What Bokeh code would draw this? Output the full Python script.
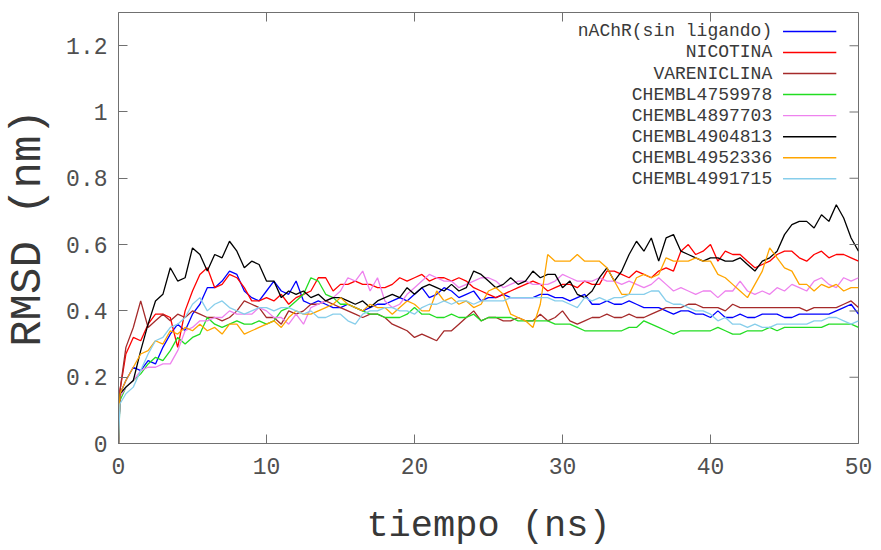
from bokeh.plotting import figure
from bokeh.models import Range1d, FixedTicker, Label, BoxAnnotation, NumeralTickFormatter
from bokeh.embed import file_html
from bokeh.resources import INLINE

# time grid (ns)
tiempo = [0.0, 0.1] + [round(0.5 * i, 1) for i in range(1, 101)]

nachr = [0.00, 0.15,
 0.19, 0.23, 0.22, 0.25, 0.24, 0.29, 0.33, 0.36, 0.34, 0.39,
 0.42, 0.47, 0.47, 0.49, 0.52, 0.51, 0.46, 0.44, 0.43, 0.46,
 0.49, 0.46, 0.45, 0.49, 0.43, 0.42, 0.43, 0.42, 0.41, 0.41,
 0.42, 0.41, 0.40, 0.41, 0.42, 0.42, 0.43, 0.44, 0.43, 0.45,
 0.47, 0.44, 0.45, 0.47, 0.46, 0.44, 0.45, 0.46, 0.43, 0.44,
 0.44, 0.45, 0.44, 0.44, 0.44, 0.44, 0.45, 0.45, 0.44, 0.44,
 0.43, 0.44, 0.45, 0.42, 0.42, 0.43, 0.42, 0.42, 0.43, 0.42,
 0.41, 0.41, 0.41, 0.40, 0.39, 0.40, 0.40, 0.39, 0.39, 0.38,
 0.40, 0.38, 0.38, 0.39, 0.38, 0.38, 0.39, 0.39, 0.39, 0.38,
 0.38, 0.39, 0.39, 0.39, 0.39, 0.39, 0.40, 0.41, 0.42, 0.39]

nicotina = [0.00, 0.16,
 0.27, 0.32, 0.31, 0.36, 0.39, 0.39, 0.38, 0.29, 0.40, 0.46,
 0.51, 0.53, 0.47, 0.48, 0.51, 0.50, 0.47, 0.43, 0.43, 0.44,
 0.43, 0.45, 0.42, 0.44, 0.45, 0.46, 0.50, 0.50, 0.46, 0.48,
 0.48, 0.49, 0.48, 0.48, 0.47, 0.47, 0.48, 0.50, 0.49, 0.50,
 0.51, 0.49, 0.50, 0.50, 0.49, 0.50, 0.49, 0.47, 0.46, 0.45,
 0.44, 0.45, 0.46, 0.47, 0.48, 0.49, 0.48, 0.46, 0.47, 0.48,
 0.48, 0.47, 0.49, 0.48, 0.48, 0.52, 0.52, 0.51, 0.50, 0.52,
 0.51, 0.50, 0.52, 0.53, 0.52, 0.58, 0.60, 0.57, 0.58, 0.60,
 0.55, 0.58, 0.57, 0.57, 0.55, 0.53, 0.54, 0.55, 0.57, 0.58,
 0.58, 0.56, 0.55, 0.57, 0.58, 0.56, 0.57, 0.57, 0.56, 0.55]

vareniclina = [0.00, 0.16,
 0.29, 0.35, 0.43, 0.35, 0.37, 0.39, 0.37, 0.39, 0.38, 0.40,
 0.39, 0.38, 0.38, 0.37, 0.38, 0.40, 0.43, 0.42, 0.41, 0.38,
 0.38, 0.36, 0.40, 0.39, 0.40, 0.42, 0.42, 0.43, 0.42, 0.41,
 0.40, 0.39, 0.38, 0.39, 0.39, 0.38, 0.36, 0.35, 0.34, 0.32,
 0.33, 0.32, 0.31, 0.34, 0.34, 0.36, 0.38, 0.40, 0.37, 0.38,
 0.38, 0.37, 0.37, 0.38, 0.37, 0.37, 0.39, 0.37, 0.38, 0.40,
 0.37, 0.36, 0.37, 0.38, 0.38, 0.39, 0.38, 0.38, 0.39, 0.38,
 0.38, 0.39, 0.40, 0.41, 0.41, 0.41, 0.42, 0.42, 0.41, 0.41,
 0.41, 0.40, 0.42, 0.41, 0.41, 0.41, 0.41, 0.41, 0.41, 0.41,
 0.41, 0.41, 0.40, 0.41, 0.41, 0.41, 0.41, 0.42, 0.43, 0.41]

chembl4759978 = [0.00, 0.13,
 0.17, 0.19, 0.21, 0.24, 0.26, 0.25, 0.28, 0.32, 0.30, 0.32,
 0.33, 0.38, 0.36, 0.35, 0.36, 0.37, 0.36, 0.36, 0.37, 0.36,
 0.37, 0.40, 0.41, 0.43, 0.45, 0.50, 0.49, 0.45, 0.44, 0.42,
 0.42, 0.41, 0.40, 0.39, 0.39, 0.38, 0.38, 0.38, 0.39, 0.41,
 0.39, 0.39, 0.38, 0.38, 0.39, 0.38, 0.38, 0.39, 0.37, 0.38,
 0.38, 0.38, 0.38, 0.37, 0.37, 0.37, 0.37, 0.37, 0.36, 0.36,
 0.36, 0.35, 0.34, 0.34, 0.34, 0.34, 0.34, 0.34, 0.35, 0.35,
 0.37, 0.36, 0.35, 0.34, 0.33, 0.34, 0.34, 0.34, 0.34, 0.34,
 0.35, 0.34, 0.33, 0.33, 0.34, 0.34, 0.34, 0.35, 0.34, 0.35,
 0.35, 0.35, 0.35, 0.35, 0.35, 0.36, 0.36, 0.36, 0.36, 0.35]

chembl4897703 = [0.00, 0.14,
 0.17, 0.19, 0.22, 0.23, 0.23, 0.24, 0.24, 0.28, 0.34, 0.35,
 0.37, 0.37, 0.38, 0.38, 0.40, 0.39, 0.39, 0.39, 0.41, 0.40,
 0.38, 0.38, 0.36, 0.39, 0.36, 0.41, 0.42, 0.43, 0.44, 0.46,
 0.50, 0.49, 0.52, 0.46, 0.50, 0.43, 0.41, 0.42, 0.45, 0.47,
 0.49, 0.51, 0.50, 0.49, 0.49, 0.47, 0.48, 0.49, 0.50, 0.50,
 0.49, 0.47, 0.48, 0.49, 0.49, 0.48, 0.48, 0.48, 0.49, 0.51,
 0.50, 0.49, 0.49, 0.49, 0.50, 0.49, 0.49, 0.48, 0.49, 0.48,
 0.47, 0.48, 0.50, 0.48, 0.46, 0.47, 0.46, 0.45, 0.46, 0.46,
 0.44, 0.46, 0.46, 0.49, 0.46, 0.45, 0.46, 0.45, 0.47, 0.46,
 0.48, 0.47, 0.46, 0.49, 0.50, 0.48, 0.47, 0.50, 0.49, 0.50]

chembl4904813 = [0.00, 0.15,
 0.17, 0.19, 0.28, 0.36, 0.43, 0.45, 0.53, 0.49, 0.50, 0.59,
 0.57, 0.52, 0.57, 0.56, 0.61, 0.58, 0.53, 0.55, 0.54, 0.49,
 0.49, 0.44, 0.46, 0.45, 0.46, 0.44, 0.45, 0.43, 0.44, 0.44,
 0.43, 0.42, 0.43, 0.41, 0.43, 0.44, 0.45, 0.44, 0.47, 0.45,
 0.47, 0.48, 0.47, 0.46, 0.48, 0.46, 0.47, 0.52, 0.51, 0.49,
 0.47, 0.48, 0.50, 0.48, 0.49, 0.52, 0.50, 0.51, 0.51, 0.47,
 0.49, 0.45, 0.44, 0.46, 0.50, 0.53, 0.49, 0.52, 0.57, 0.61,
 0.58, 0.62, 0.55, 0.62, 0.63, 0.58, 0.57, 0.56, 0.55, 0.56,
 0.56, 0.55, 0.55, 0.56, 0.54, 0.52, 0.55, 0.56, 0.58, 0.63,
 0.66, 0.67, 0.67, 0.65, 0.69, 0.67, 0.72, 0.68, 0.62, 0.58]

chembl4952336 = [0.00, 0.15,
 0.19, 0.23, 0.27, 0.28, 0.31, 0.30, 0.34, 0.33, 0.35, 0.34,
 0.36, 0.34, 0.35, 0.33, 0.36, 0.36, 0.33, 0.34, 0.35, 0.36,
 0.37, 0.35, 0.38, 0.40, 0.39, 0.39, 0.40, 0.41, 0.42, 0.44,
 0.42, 0.41, 0.40, 0.42, 0.41, 0.41, 0.39, 0.41, 0.43, 0.42,
 0.40, 0.40, 0.46, 0.43, 0.44, 0.42, 0.43, 0.41, 0.42, 0.46,
 0.47, 0.45, 0.39, 0.38, 0.37, 0.35, 0.42, 0.57, 0.55, 0.55,
 0.55, 0.57, 0.55, 0.55, 0.55, 0.53, 0.49, 0.45, 0.45, 0.50,
 0.51, 0.50, 0.51, 0.56, 0.55, 0.55, 0.55, 0.56, 0.55, 0.55,
 0.51, 0.50, 0.48, 0.46, 0.44, 0.48, 0.52, 0.59, 0.56, 0.53,
 0.52, 0.48, 0.48, 0.46, 0.48, 0.47, 0.48, 0.46, 0.47, 0.47]

chembl4991715 = [0.00, 0.12,
 0.15, 0.17, 0.22, 0.27, 0.31, 0.32, 0.35, 0.36, 0.38, 0.42,
 0.44, 0.40, 0.42, 0.43, 0.41, 0.40, 0.39, 0.40, 0.41, 0.41,
 0.40, 0.41, 0.41, 0.40, 0.39, 0.40, 0.38, 0.38, 0.39, 0.39,
 0.37, 0.36, 0.39, 0.40, 0.40, 0.41, 0.41, 0.40, 0.40, 0.39,
 0.41, 0.42, 0.42, 0.43, 0.42, 0.43, 0.43, 0.42, 0.43, 0.43,
 0.43, 0.43, 0.44, 0.44, 0.44, 0.44, 0.44, 0.44, 0.43, 0.43,
 0.42, 0.41, 0.44, 0.43, 0.44, 0.43, 0.44, 0.44, 0.45, 0.45,
 0.45, 0.46, 0.46, 0.43, 0.42, 0.42, 0.41, 0.40, 0.40, 0.39,
 0.37, 0.38, 0.36, 0.36, 0.35, 0.36, 0.35, 0.35, 0.36, 0.36,
 0.36, 0.36, 0.36, 0.37, 0.37, 0.38, 0.38, 0.37, 0.36, 0.37]

nombres = ["nAChR(sin ligando)", "NICOTINA", "VARENICLINA", "CHEMBL4759978",
           "CHEMBL4897703", "CHEMBL4904813", "CHEMBL4952336", "CHEMBL4991715"]
series = [nachr, nicotina, vareniclina, chembl4759978,
          chembl4897703, chembl4904813, chembl4952336, chembl4991715]
colores = ["#0000ff", "#ff0000", "#a52a2a", "#22dd22",
           "#ee82ee", "#000000", "#ffa500", "#87ceeb"]

y_ticks = [0, 0.2, 0.4, 0.6, 0.8, 1.0, 1.2]
x_ticks = [0, 10, 20, 30, 40, 50]

X_MIN, X_MAX = 0, 50
Y_MIN, Y_MAX = 0, 1.3

FONT = "Liberation Mono"
FRAME = "#707070"

p = figure(width=881, height=550, output_backend="svg", toolbar_location=None,
           x_range=Range1d(X_MIN, X_MAX), y_range=Range1d(Y_MIN, Y_MAX),
           min_border_left=118, min_border_right=23, min_border_top=12,
           min_border_bottom=107)
p.grid.visible = False
p.outline_line_color = FRAME
p.background_fill_color = "white"
p.border_fill_color = "white"

for s, c in zip(series, colores):
    p.line(tiempo, s, line_color=c, line_width=1.3)

for ax in (p.xaxis[0], p.yaxis[0]):
    ax.axis_line_color = FRAME
    ax.major_tick_line_color = FRAME
    ax.major_tick_in = 9
    ax.major_tick_out = 0
    ax.minor_tick_line_color = None
    ax.major_label_text_font = FONT
    ax.major_label_text_color = "#505050"
    ax.major_label_text_font_size = "23px"
    ax.axis_label_text_font = FONT
    ax.axis_label_text_font_style = "normal"
    ax.axis_label_text_color = "#383838"

p.xaxis.ticker = FixedTicker(ticks=x_ticks)
p.yaxis.ticker = FixedTicker(ticks=y_ticks)
p.yaxis.formatter = NumeralTickFormatter(format="0.[0]")
p.xaxis.axis_label = "tiempo (ns)"
p.yaxis.axis_label = "RMSD (nm)"
p.xaxis.axis_label_text_font_size = "37px"
p.yaxis.axis_label_text_font_size = "44px"
p.xaxis.major_label_standoff = 14
p.xaxis.axis_label_standoff = 28
p.yaxis.major_label_standoff = 11
p.yaxis.axis_label_standoff = 10

# mirrored inward ticks on top and right frame edges (9 px long)
tick_dx = (X_MAX - X_MIN) * 9 / 740
tick_dy = (Y_MAX - Y_MIN) * 9 / 431
half_w_x = (X_MAX - X_MIN) * 0.5 / 740
half_w_y = (Y_MAX - Y_MIN) * 0.5 / 431
for xt in x_ticks[1:-1]:
    p.add_layout(BoxAnnotation(left=xt - half_w_x, right=xt + half_w_x,
                               top=Y_MAX, bottom=Y_MAX - tick_dy,
                               fill_color=FRAME, fill_alpha=1.0, line_alpha=0))
for yt in y_ticks[1:]:
    p.add_layout(BoxAnnotation(left=X_MAX - tick_dx, right=X_MAX,
                               top=yt + half_w_y, bottom=yt - half_w_y,
                               fill_color=FRAME, fill_alpha=1.0, line_alpha=0))

# legend (top right, text right-aligned, sample line on the right)
leg_text_x = 44.17
leg_line_x0 = 44.9
leg_line_x1 = 48.5
leg_top = 1.243
leg_step = 0.0635
for i, (n, c) in enumerate(zip(nombres, colores)):
    yy = leg_top - i * leg_step
    p.add_layout(Label(x=leg_text_x, y=yy, text=n, text_align="right",
                       text_baseline="middle", text_font=FONT,
                       text_font_size="18px", text_color="#3a3a3a"))
    p.add_layout(BoxAnnotation(left=leg_line_x0, right=leg_line_x1,
                               bottom=yy - 0.0022, top=yy + 0.0022,
                               fill_color=c, fill_alpha=1.0, line_alpha=0))

open("out.html", "w").write(file_html(p, INLINE))
